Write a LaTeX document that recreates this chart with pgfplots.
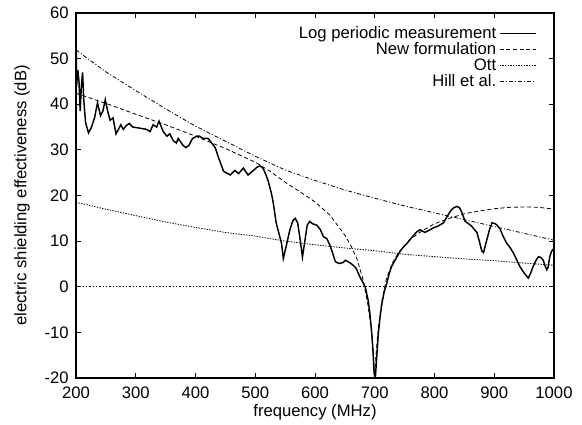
\documentclass[border=0pt]{standalone}
\usepackage{fontspec}
\setmainfont{Liberation Sans}
\usepackage{pgfplots}
\pgfplotsset{compat=1.18}

% shielding effectiveness curves
\pgfplotstableread{
f se
200 57
201 44
203 47.5
205 45
207 38.5
209 44
211 47
213 41
216 36
221 33.7
226 35
231 37
236 40.3
241 37.5
245 38.5
249 41
253 38.5
257 36.5
262 37
267 33.5
271 34.5
275 35.5
279 34.5
284 35.3
289 35.8
295 35
305 34.8
318 34.5
324 34
329 35.5
335 35
339 36.3
346 34
352 33
357 33.5
363 32
368 31.5
371 32.5
379 31
384 30.5
389 31
395 32.5
402 33
407 33
412 32.5
421 32.5
427 31.5
433 30.5
438 28.5
447 25.3
458 24.5
466 25.5
472 24.8
480 26
488 24.5
497 25.5
503 26.2
508 26.5
513 26
518 24.5
522 23
527 20.5
530 18.5
535 14
540 11.5
544 9.5
547 6.2
552 9
558 12.5
563 14.5
567 15
571 14
575 10.5
579 6.5
583 10
587 13.5
591 14.3
596 13.8
603 13.5
609 12.5
614 11
620 10.5
625 9.1
630 7.2
634 5.5
640 5.1
647 5.3
651 5.8
655 5.5
659 5.2
664 4.7
669 4
675 2.2
680 1
684 0
689 -3
692 -6
695 -10.3
697 -14
699 -19
701 -20
703 -16
706 -10.3
709 -6.5
712 -3.7
716 -1
720 0.7
724 2.8
728 4.4
734 5.8
742 7.7
748 8.7
754 9.5
762 10.8
770 12
776 12.5
780 12.2
784 11.9
790 12.3
798 12.9
806 13.3
815 14
823 15.8
828 16.8
832 17.3
838 17.6
842 17.3
846 16.2
851 14.4
857 13.8
862 13.3
867 12.5
871 11.9
875 10
879 7.9
882 7.5
885 9
888 10.5
892 12.5
896 14
900 13.9
904 13.6
910 12.6
915 11
921 9.5
927 8.5
932 7.4
938 5.8
943 4.4
950 3
957 1.9
961 3
965 4.4
970 5.8
974 6.6
978 6.4
982 5.8
985 4.6
988 3.7
990 4.2
993 6.6
996 7.8
1000 8.4
}\measured

\pgfplotstableread{
f se
200 42.4
250 40.2
300 37.8
350 35.5
400 33.0
450 30.3
500 27.3
525 25.3
550 22.9
575 20.8
600 18.6
625 15.7
650 11.3
660 9.0
670 6.2
680 1.8
688 -3.5
694 -9
698 -15
700 -20
702 -15
706 -9
712 -3
720 2.0
730 5.3
740 7.5
760 10.5
780 12.3
800 13.8
825 15.0
850 16.0
875 16.6
900 17.1
925 17.4
950 17.5
975 17.4
1000 17.0
}\newform

\pgfplotstableread{
f se
200 18.5
250 17.0
300 15.6
350 14.2
400 13.0
450 11.9
500 11.1
550 10.0
600 9.2
650 8.5
700 7.9
750 7.1
800 6.6
850 6.1
900 5.7
950 5.2
1000 4.7
}\ott

\pgfplotstableread{
f se
200 51.9
250 47.1
300 43.0
350 39.0
400 35.2
450 31.9
500 28.6
550 25.6
600 23.3
650 21.2
700 19.4
750 17.7
800 16.2
850 14.7
900 13.2
950 11.7
1000 10.2
}\hill

\begin{document}
\begin{tikzpicture}
\path (-57pt,-33pt) rectangle (379.5pt,283.5pt);
\begin{axis}[
    at={(0,0)}, anchor=south west,
    width=358.5pt, height=273.75pt, scale only axis,
    xmin=200, xmax=1000, ymin=-20, ymax=60,
    xtick={200,300,...,1000},
    ytick={-20,-10,...,60},
    tick align=inside,
    major tick length=4pt,
    tick style={black, line width=0.6pt},
    axis line style={line width=0.8pt},
    /pgf/number format/assume math mode=true,
    /pgf/number format/1000 sep={},
    font=\fontsize{12.5}{14}\selectfont,
    xticklabel style={yshift=-3pt},
    yticklabel style={xshift=-2pt},
    xlabel={frequency (MHz)},
    ylabel={electric shielding effectiveness (dB)},
    xlabel style={at={(axis description cs:0.5,-0.095)}, anchor=center},
    ylabel style={at={(axis description cs:-0.113,0.5)}, anchor=center},
    legend style={draw=none, fill=none, at={(1,1)}, anchor=north east,
        xshift=-10pt, yshift=-6pt, row sep=-2.4pt,
        font=\fontsize{12.5}{14}\selectfont},
    legend cell align=right,
    legend plot pos=right,
    legend image code/.code={\draw[#1] (0cm,0cm) -- (0.95cm,0cm);},
]
\addplot [black, line width=1.1pt] table {\measured};
\addlegendentry{Log periodic measurement}
\addplot [black, line width=0.6pt, dash pattern=on 3pt off 2pt] table {\newform};
\addlegendentry{New formulation}
\addplot [black, line width=0.6pt, dash pattern=on 1pt off 1pt] table {\ott};
\addlegendentry{Ott}
\addplot [black, line width=0.6pt, dash pattern=on 3pt off 1.5pt on 0.8pt off 1.5pt] table {\hill};
\addlegendentry{Hill et al.}
\addplot [black, line width=0.5pt, dash pattern=on 1pt off 1.5pt, forget plot] coordinates {(200,0) (1000,0)};
\end{axis}
\end{tikzpicture}
\end{document}
